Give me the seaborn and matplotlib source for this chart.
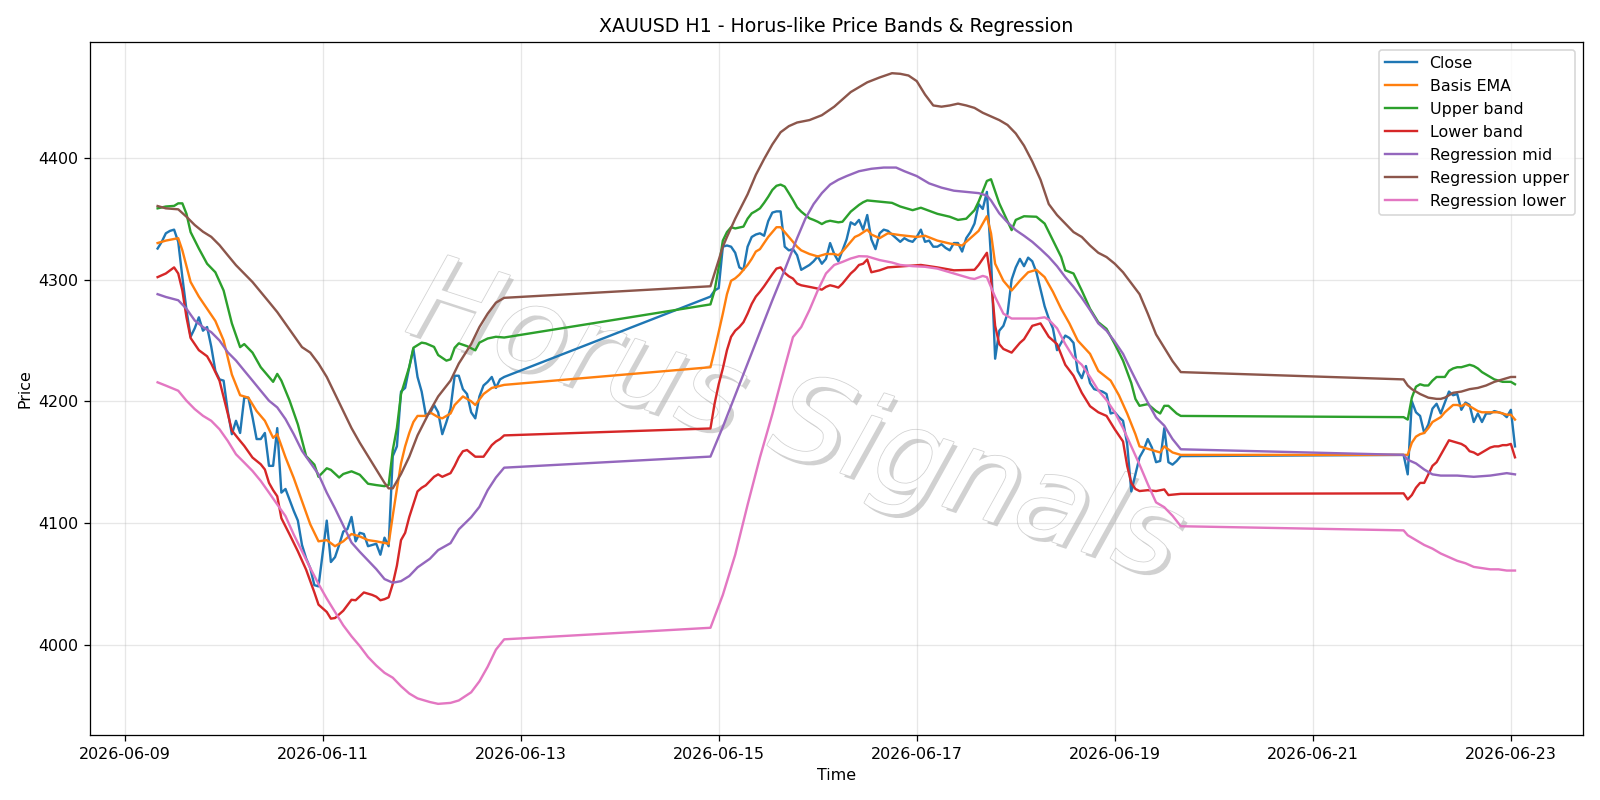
import pandas as pd
import numpy as np
import matplotlib
matplotlib.use("Agg")
import matplotlib.pyplot as plt
import matplotlib.dates as mdates
import matplotlib.patheffects as pe
import seaborn as sns

# Hours are counted from 2026-06-09 00:00 (H1 candles, weekend gaps are simply joined)
START = pd.Timestamp("2026-06-09 00:00")

close_seg1 = [4325.5, 4331, 4338, 4340, 4341, 4331, 4302, 4275, 4253, 4260,
              4269, 4258, 4261, 4245, 4225, 4218, 4217, 4192, 4173, 4184,
              4174, 4203, 4203, 4187, 4169, 4169, 4174, 4147, 4147, 4178,
              4125, 4128, 4119, 4110, 4102, 4082, 4071, 4063, 4049, 4048,
              4075, 4102, 4068, 4072, 4082, 4093, 4095, 4105, 4085, 4092,
              4091, 4081, 4082, 4083, 4074, 4088, 4081, 4155, 4163, 4208,
              4211, 4228, 4243, 4220, 4208, 4189, 4190, 4197, 4191, 4173,
              4183, 4194, 4221, 4221, 4210, 4206, 4191, 4186, 4204, 4213,
              4216, 4220, 4211, 4218, 4220]
close_seg2 = [4286, 4291, 4293, 4327, 4328, 4327, 4322, 4310, 4308, 4327,
              4335, 4337, 4338, 4336, 4348, 4355, 4356, 4356, 4327, 4324,
              4325, 4320, 4308, 4310, 4312, 4315, 4319, 4313, 4317, 4330,
              4321, 4315, 4324, 4333, 4347, 4345, 4349, 4341, 4353, 4333,
              4325, 4338, 4341, 4340, 4337, 4334, 4331, 4334, 4332, 4331,
              4335, 4341, 4331, 4332, 4327, 4327, 4329, 4326, 4324, 4330,
              4330, 4323, 4334, 4339, 4346, 4362, 4358, 4372, 4318, 4235,
              4258, 4262, 4272, 4300, 4310, 4317, 4311, 4318, 4315, 4306,
              4292, 4278, 4268, 4260, 4242, 4248, 4254, 4252, 4248, 4225,
              4219, 4229, 4215, 4210, 4209, 4208, 4206, 4190, 4191, 4187,
              4184, 4165, 4126, 4140, 4154, 4160, 4169, 4162, 4150, 4151,
              4178, 4150, 4148, 4151, 4155]
close_seg3 = [4156, 4140, 4200, 4191, 4188, 4174, 4181, 4194, 4198, 4190,
              4199, 4208, 4205, 4206, 4193, 4199, 4197, 4183, 4190, 4183,
              4190, 4190, 4192, 4191, 4190, 4187, 4193, 4163]
close_hours = list(range(8, 93)) + list(range(142, 257)) + list(range(310, 338))

# (hour, value) pairs
ema_pts = [(8, 4330), (10, 4332), (13, 4334), (14, 4324), (16, 4298), (18, 4286), (20, 4276),
           (22, 4266), (24, 4250), (26, 4222), (28, 4205), (30, 4203), (32, 4192), (34, 4184),
           (36, 4170), (37, 4173), (39, 4154), (41, 4137), (43, 4118), (45, 4099), (47, 4085),
           (49, 4086), (51, 4081), (53, 4085), (55, 4091), (57, 4089), (59, 4086), (61, 4085),
           (64, 4083), (65, 4106), (66, 4128), (67, 4149), (68, 4163), (69, 4174), (70, 4183),
           (71, 4188), (73, 4188), (74, 4191), (76, 4187), (77, 4186), (79, 4190), (80, 4197),
           (82, 4204), (84, 4200), (85, 4197), (87, 4206), (89, 4211), (92, 4213.5),
           (142, 4228), (143, 4242), (144, 4257), (145, 4272), (146, 4288), (147, 4299),
           (148, 4301), (149, 4304), (150, 4308), (151, 4312), (152, 4317), (153, 4323),
           (154, 4325), (155, 4330), (156, 4335), (157, 4339), (158, 4343), (159, 4343),
           (160, 4339), (161, 4335), (162, 4331), (163, 4327), (164, 4324), (166, 4321),
           (168, 4319), (170, 4321), (172, 4321), (173, 4320), (174, 4323), (175, 4327),
           (176, 4331), (177, 4335), (178, 4336.5), (180, 4341), (181, 4337), (183, 4334),
           (185, 4338), (188, 4336.5), (192, 4335), (194, 4336), (197, 4332), (200, 4329.6),
           (203, 4328), (205, 4334), (207, 4340), (209, 4352), (210, 4338), (211, 4313),
           (213, 4299), (215, 4291), (217, 4299), (219, 4306), (221, 4308), (223, 4302),
           (225, 4290), (227, 4276), (229, 4264), (231, 4250), (234, 4239), (236, 4225),
           (239, 4217), (241, 4205), (243, 4190), (245, 4173), (246, 4163), (248, 4161),
           (251, 4158), (252, 4163), (254, 4158), (256, 4156),
           (310, 4156), (311, 4156), (312, 4166), (313, 4171), (314, 4173), (315, 4174),
           (316, 4178), (317, 4183), (318, 4185), (319, 4187), (320, 4191), (321, 4194),
           (322, 4197), (323, 4197), (324, 4196), (325, 4198), (326, 4196), (327, 4194),
           (328, 4192), (329, 4191), (330, 4191), (331, 4191), (332, 4191), (333, 4191),
           (334, 4190), (335, 4189), (336, 4189), (337, 4185)]

upper_pts = [(8, 4358.5), (10, 4360), (12, 4360.5), (13, 4362.6), (14, 4362.6), (15, 4354),
             (16, 4339), (18, 4325.5), (20, 4313), (22, 4306), (24, 4291), (26, 4264),
             (28, 4244.5), (29, 4247), (31, 4240), (33, 4228), (34, 4224), (36, 4216),
             (37, 4222.5), (38, 4217), (40, 4200.5), (42, 4181), (44, 4155), (46, 4148),
             (47, 4138), (49, 4145), (50, 4143.7), (52, 4137.4), (53, 4140.3), (55, 4142.5),
             (57, 4139.7), (59, 4132.3), (61, 4131.2), (63, 4130.3), (64, 4131.2), (65, 4160),
             (66, 4178), (67, 4206), (69, 4228.3), (70, 4244), (72, 4248.2), (73, 4247.6),
             (75, 4244.7), (76, 4238), (78, 4233.4), (79, 4234.5), (80, 4244), (81, 4247.6),
             (83, 4245.3), (85, 4241.9), (86, 4248.2), (88, 4251.6), (90, 4253), (92, 4252.4),
             (142, 4279.6), (143, 4291), (144, 4310), (145, 4332), (146, 4339), (147, 4343),
             (148, 4342), (150, 4343.5), (151, 4350), (152, 4354.4), (153, 4356.3),
             (154, 4358.5), (155, 4363), (156, 4368), (157, 4373.6), (158, 4377), (159, 4378),
             (160, 4376.4), (161, 4371), (162, 4365.4), (163, 4359.3), (164, 4355.8),
             (165, 4353), (166, 4350.3), (167, 4349), (168, 4347.5), (169, 4345.6),
             (170, 4347.5), (171, 4348.3), (173, 4347), (174, 4347.5), (175, 4351.6),
             (176, 4355.8), (177, 4358.5), (178, 4361.3), (179, 4363.5), (180, 4365),
             (183, 4364), (186, 4363), (188, 4360), (191, 4357), (193, 4359), (197, 4354),
             (200, 4351.6), (202, 4349), (204, 4350), (206, 4357), (207, 4364), (209, 4381),
             (210, 4382.4), (212, 4362.6), (215, 4340.6), (216, 4349), (218, 4352),
             (221, 4351.6), (223, 4346), (225, 4332.4), (227, 4318.6), (228, 4307.6),
             (230, 4305), (232, 4291), (234, 4276), (236, 4265), (238, 4259.5), (240, 4247),
             (242, 4233.4), (244, 4215), (245, 4202), (246, 4196.3), (248, 4197.7),
             (250, 4192), (251, 4190), (252, 4196.3), (253, 4196.3), (255, 4190), (256, 4188),
             (310, 4187), (311, 4185), (312, 4203), (313, 4212), (314, 4214), (315, 4213),
             (316, 4213), (317, 4217), (318, 4220), (319, 4220), (320, 4220), (321, 4225),
             (322, 4227), (323, 4228), (324, 4228), (325, 4229), (326, 4230), (327, 4229),
             (328, 4227), (329, 4224), (330, 4222), (331, 4220), (332, 4218), (333, 4217),
             (334, 4216), (335, 4216), (336, 4216), (337, 4214)]

lower_pts = [(8, 4302), (10, 4305), (12, 4310), (13, 4305), (14, 4291), (15, 4269), (16, 4252),
             (18, 4242), (20, 4237), (21, 4231), (23, 4217), (25, 4190), (26, 4176),
             (28, 4167.5), (29, 4163.4), (31, 4153.8), (33, 4148.3), (34, 4144), (35, 4133),
             (36, 4127), (37, 4122), (38, 4104), (40, 4090.6), (42, 4076.8), (44, 4061.7),
             (46, 4043), (47, 4033), (48, 4030), (49, 4027), (50, 4021.5), (51, 4022),
             (52, 4025), (53, 4028), (55, 4037), (56, 4036.6), (58, 4043), (60, 4041),
             (61, 4039.5), (62, 4036.6), (63, 4037.5), (64, 4039), (65, 4050), (66, 4065),
             (67, 4086), (68, 4092), (69, 4105), (71, 4126), (72, 4129), (73, 4131), (75, 4138),
             (76, 4140), (77, 4138), (79, 4141), (80, 4147), (81, 4154), (82, 4159), (83, 4160),
             (85, 4154.5), (87, 4154.5), (89, 4164), (90, 4167), (91, 4169), (92, 4172),
             (142, 4177.7), (143, 4198), (144, 4214), (145, 4227), (146, 4242), (147, 4253),
             (148, 4258), (149, 4261), (150, 4265), (151, 4272), (152, 4280), (153, 4286),
             (154, 4290), (155, 4294.5), (156, 4299.4), (157, 4304.4), (158, 4309), (159, 4310),
             (160, 4305.5), (161, 4302.7), (162, 4300.8), (163, 4296.7), (164, 4295.3),
             (166, 4294), (168, 4292.6), (169, 4291.7), (170, 4294), (171, 4295.3),
             (172, 4294.5), (173, 4293.4), (174, 4296.7), (175, 4300.8), (176, 4305),
             (177, 4308), (178, 4312), (179, 4313), (180, 4316.5), (181, 4306), (183, 4307.6),
             (185, 4310), (189, 4311), (193, 4312), (195, 4311), (197, 4310), (201, 4307.6),
             (206, 4308), (207, 4312), (209, 4322), (210, 4300), (211, 4262), (212, 4247),
             (213, 4243), (215, 4240), (217, 4248), (218, 4251), (220, 4262), (222, 4264),
             (224, 4253), (226, 4247), (228, 4230), (230, 4221), (232, 4207), (234, 4196),
             (236, 4191), (238, 4188), (240, 4177), (242, 4167), (243, 4147), (244, 4133),
             (245, 4128), (246, 4126.3), (248, 4127), (250, 4126.3), (252, 4127.6), (253, 4123),
             (256, 4124),
             (310, 4124.4), (311, 4119.4), (312, 4123), (313, 4129), (314, 4133), (315, 4133),
             (316, 4140), (317, 4147), (318, 4150), (319, 4156), (320, 4162), (321, 4168),
             (322, 4167), (323, 4166), (324, 4165), (325, 4163), (326, 4159), (327, 4158),
             (328, 4156), (329, 4158), (330, 4160), (331, 4162), (332, 4163), (333, 4163),
             (334, 4164), (335, 4164), (336, 4165), (337, 4154)]

reg_mid_pts = [(8, 4288), (10, 4285.7), (13, 4283), (15, 4276), (17, 4266.4), (19, 4261),
               (21, 4256.8), (23, 4250), (25, 4240.3), (27, 4233.5), (29, 4225.2), (31, 4217),
               (33, 4208.7), (35, 4200.5), (37, 4195), (39, 4185.4), (41, 4173), (43, 4159.3),
               (45, 4149.7), (47, 4140), (49, 4125), (51, 4112), (53, 4098), (55, 4084),
               (57, 4076.4), (59, 4069.3), (61, 4062.2), (63, 4054), (65, 4051), (67, 4052.3),
               (69, 4056.5), (71, 4063.6), (74, 4070.7), (76, 4077.8), (79, 4083.5),
               (81, 4094.8), (84, 4104.8), (86, 4113.3), (88, 4127), (90, 4137.4), (92, 4145.5),
               (142, 4154.6), (145, 4179), (148, 4205), (151, 4231), (154, 4257), (157, 4283),
               (160, 4308), (163, 4334), (165, 4350), (167, 4362), (169, 4371), (171, 4378),
               (173, 4382), (175, 4385), (178, 4389), (181, 4391), (184, 4392), (187, 4392),
               (189, 4389), (192, 4385), (195, 4379), (198, 4375.5), (201, 4373), (204, 4372),
               (207, 4371), (209, 4369), (210, 4365), (212, 4354.4), (214, 4347),
               (216, 4340.6), (218, 4336), (220, 4331), (222, 4325), (224, 4318.6), (226, 4311),
               (228, 4302), (230, 4294), (232, 4285), (234, 4275), (236, 4264), (238, 4258),
               (240, 4249), (242, 4239), (244, 4225), (246, 4211.5), (248, 4199),
               (250, 4186.7), (252, 4180), (254, 4169), (256, 4160.6),
               (310, 4156), (311, 4152), (313, 4149), (315, 4144), (317, 4140), (319, 4139),
               (323, 4139), (327, 4138), (331, 4139), (333, 4140), (335, 4141), (337, 4140)]

reg_upper_pts = [(8, 4360.4), (10, 4358.5), (13, 4357.7), (15, 4351.6), (17, 4344.8),
                 (19, 4339.3), (21, 4335.1), (23, 4328.3), (25, 4320), (27, 4311.8),
                 (29, 4304.9), (31, 4298), (33, 4289.8), (35, 4281.6), (37, 4273.3),
                 (39, 4263.7), (41, 4254.1), (43, 4244.5), (45, 4240), (47, 4231), (49, 4220),
                 (51, 4206), (53, 4192), (55, 4178), (57, 4166), (59, 4155), (61, 4144),
                 (63, 4133), (64, 4128.5), (65, 4128.5), (67, 4140.3), (69, 4154.5), (71, 4172),
                 (74, 4192), (76, 4204), (79, 4217), (81, 4231), (84, 4247), (86, 4261),
                 (88, 4272), (90, 4281), (92, 4285),
                 (142, 4294.5), (144, 4316), (145, 4327), (146, 4335), (148, 4350), (151, 4370),
                 (153, 4386), (155, 4399), (157, 4411), (159, 4421), (161, 4426), (163, 4429),
                 (166, 4431), (169, 4435), (172, 4442), (176, 4454), (180, 4462), (183, 4466),
                 (186, 4469.5), (188, 4469), (190, 4467.6), (192, 4463), (194, 4452),
                 (196, 4443), (198, 4442), (200, 4443), (202, 4444.5), (204, 4443), (206, 4441),
                 (208, 4437), (210, 4434), (212, 4431), (214, 4427), (216, 4420), (218, 4410),
                 (220, 4397), (222, 4382), (224, 4362), (226, 4353), (228, 4346), (230, 4339),
                 (232, 4335), (234, 4328), (236, 4322), (238, 4318.5), (240, 4313), (242, 4306),
                 (244, 4297), (246, 4288), (248, 4272), (250, 4255), (252, 4244), (254, 4233),
                 (256, 4224),
                 (310, 4218), (311, 4213), (312, 4210), (314, 4206), (316, 4203), (318, 4202),
                 (319, 4202), (320, 4203), (322, 4207), (324, 4208), (326, 4210), (328, 4211),
                 (330, 4213), (332, 4216), (334, 4218), (336, 4220), (337, 4220)]

reg_lower_pts = [(8, 4215.6), (10, 4212.9), (13, 4208.7), (15, 4200.5), (17, 4193.6),
                 (19, 4188.1), (21, 4184), (23, 4177.1), (25, 4167.5), (27, 4156.5),
                 (29, 4149.7), (31, 4142.8), (33, 4134.6), (35, 4125), (37, 4115.3),
                 (39, 4105.7), (41, 4090.6), (43, 4076.8), (45, 4063.1), (47, 4050), (49, 4038),
                 (51, 4027), (53, 4016), (55, 4007), (57, 3999), (59, 3990), (61, 3983),
                 (63, 3977), (65, 3973), (67, 3966), (69, 3960), (71, 3956), (74, 3953),
                 (76, 3951.5), (79, 3952.3), (81, 3954.3), (84, 3961), (86, 3970), (88, 3982),
                 (90, 3996), (92, 4004.5),
                 (142, 4014), (145, 4041), (148, 4074), (151, 4115), (154, 4154), (157, 4189.5),
                 (160, 4228), (162, 4252.7), (164, 4261), (166, 4275), (168, 4291), (170, 4305),
                 (172, 4312), (174, 4314.5), (176, 4317.3), (178, 4319.2), (180, 4319),
                 (183, 4316), (186, 4314), (188, 4312), (191, 4311), (194, 4310.5), (197, 4309),
                 (200, 4306), (203, 4303), (205, 4301), (206, 4300.5), (208, 4303), (209, 4302),
                 (211, 4285.7), (213, 4272), (215, 4268), (218, 4268), (221, 4268), (223, 4269),
                 (224, 4267), (226, 4260), (228, 4247), (230, 4236), (232, 4230), (234, 4220),
                 (236, 4209), (238, 4201), (240, 4191), (242, 4178), (244, 4163), (246, 4148),
                 (248, 4132), (250, 4117), (252, 4113), (254, 4106), (256, 4097.4),
                 (310, 4094), (311, 4090), (313, 4086), (315, 4082), (317, 4079), (319, 4075),
                 (321, 4072), (323, 4069), (325, 4067), (327, 4064), (329, 4063), (331, 4062),
                 (333, 4062), (335, 4061), (337, 4061)]


def to_frame(hours, values):
    return pd.DataFrame({
        "time": START + pd.to_timedelta(hours, unit="h"),
        "value": values,
    })


def pts_frame(pts):
    hours, values = zip(*pts)
    return to_frame(list(hours), list(values))


series = [
    ("Close", to_frame(close_hours, close_seg1 + close_seg2 + close_seg3), "tab:blue"),
    ("Basis EMA", pts_frame(ema_pts), "tab:orange"),
    ("Upper band", pts_frame(upper_pts), "tab:green"),
    ("Lower band", pts_frame(lower_pts), "tab:red"),
    ("Regression mid", pts_frame(reg_mid_pts), "tab:purple"),
    ("Regression upper", pts_frame(reg_upper_pts), "tab:brown"),
    ("Regression lower", pts_frame(reg_lower_pts), "tab:pink"),
]

fig, ax = plt.subplots(figsize=(14, 7), dpi=1600 / 14)

for name, df, color in series:
    sns.lineplot(data=df, x="time", y="value", ax=ax, label=name, color=color,
                 linewidth=1.5, sort=True, zorder=2)

# watermark
ax.text(0.472, 0.45, "Horus Signals", transform=ax.transAxes, fontsize=74,
        style="italic", rotation=-18, ha="center", va="center", color="white",
        zorder=1,
        path_effects=[pe.SimplePatchShadow(offset=(2.5, -2.5), shadow_rgbFace="#999999", alpha=0.45),
                      pe.Stroke(linewidth=1.0, foreground="#d2d2d2"),
                      pe.Normal()])

ax.set_title("XAUUSD H1 - Horus-like Price Bands & Regression")
ax.set_xlabel("Time")
ax.set_ylabel("Price")
ax.grid(True, alpha=0.3)
ax.xaxis.set_major_locator(mdates.DayLocator(bymonthday=range(9, 24, 2)))
ax.xaxis.set_major_formatter(mdates.DateFormatter("%Y-%m-%d"))
ax.legend(loc="upper right")

plt.tight_layout()
plt.savefig("out.png")
